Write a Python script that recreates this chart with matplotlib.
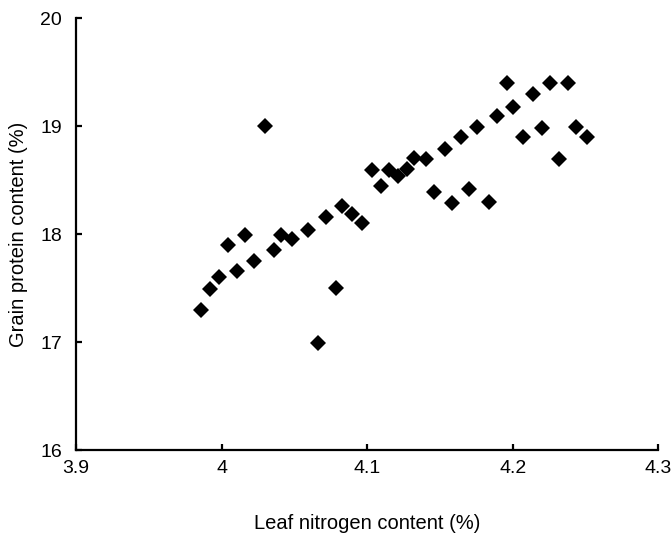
import matplotlib
matplotlib.use("Agg")
import matplotlib.pyplot as plt

leaf_n = [3.986, 3.992, 3.998, 4.0045, 4.0105, 4.016, 4.0224, 4.0298, 4.0357, 4.0408,
          4.0483, 4.0595, 4.066, 4.0715, 4.0786, 4.0829, 4.0893, 4.0962, 4.1031, 4.1093,
          4.115, 4.1214, 4.1272, 4.1324, 4.1404, 4.1461, 4.1535, 4.1585, 4.1647, 4.1702,
          4.1753, 4.1837, 4.189, 4.1959, 4.2004, 4.2073, 4.2142, 4.2199, 4.2258, 4.232,
          4.2378, 4.2435, 4.2509]
grain_protein = [17.30, 17.49, 17.60, 17.90, 17.655, 17.99, 17.75, 19.00, 17.85, 17.99,
                 17.955, 18.04, 16.99, 18.155, 17.50, 18.265, 18.19, 18.10, 18.59, 18.445,
                 18.595, 18.54, 18.60, 18.71, 18.695, 18.39, 18.79, 18.285, 18.90, 18.415,
                 18.995, 18.295, 19.095, 19.40, 19.175, 18.90, 19.295, 18.98, 19.40, 18.695,
                 19.40, 18.995, 18.90]

x_ticks = [3.9, 4.0, 4.1, 4.2, 4.3]
x_tick_labels = ["3.9", "4", "4.1", "4.2", "4.3"]
y_ticks = [16, 17, 18, 19, 20]

plt.rcParams['font.family'] = ['Liberation Sans', 'DejaVu Sans']

fig = plt.figure(figsize=(6.71, 5.36), dpi=100)
ax = fig.add_axes([0.1133, 0.1604, 0.8677, 0.8055])
ax.plot(leaf_n, grain_protein, linestyle='none', marker='D', markersize=8,
        color='black', markeredgewidth=0)

ax.set_xlim(3.9, 4.3)
ax.set_ylim(16, 20)
ax.set_xticks(x_ticks)
ax.set_xticklabels(x_tick_labels)
ax.set_yticks(y_ticks)

for s in ['top', 'right']:
    ax.spines[s].set_visible(False)
for s in ['left', 'bottom']:
    ax.spines[s].set_linewidth(1.6)
ax.tick_params(direction='in', length=4, width=1.6, labelsize=14, colors='black')
ax.tick_params(axis='x', pad=7)
ax.tick_params(axis='y', pad=10)

ax.set_xlabel("Leaf nitrogen content (%)", fontsize=14.5, labelpad=27)
ax.set_ylabel("Grain protein content (%)", fontsize=14.5, labelpad=9)

fig.savefig("out.png", dpi=100)
